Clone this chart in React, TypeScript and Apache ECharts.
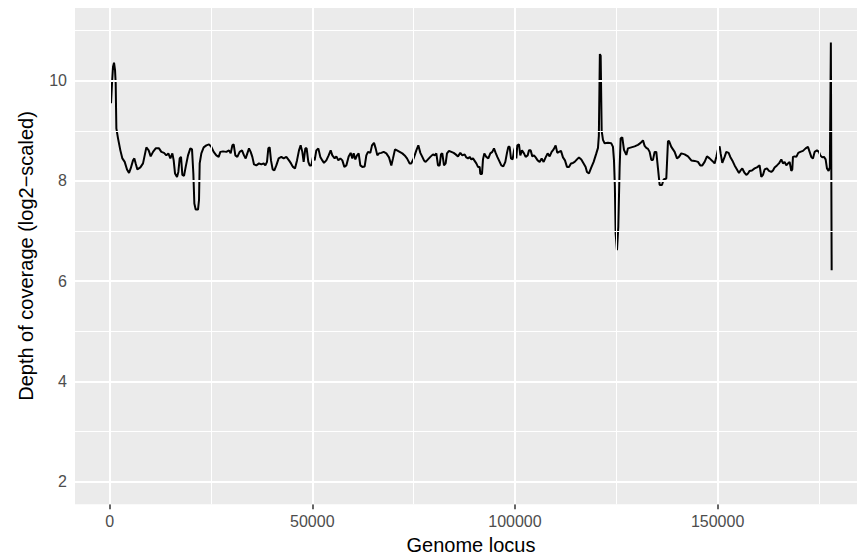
import React, { useEffect, useRef } from "react";
import * as echarts from "echarts";

// Genome locus (bp) and log2-scaled depth of coverage
const genomeLocus = [
  330, 575, 822, 1069, 1316, 1480, 1562, 1645, 2056, 2632, 3125, 3700, 4276, 4770, 5181, 5757, 6086, 6415, 6826, 7566,
  8224, 8635, 9047, 9622, 10115, 10691, 11349, 12171, 12747, 13405, 13981, 14474, 14967, 15461, 15790, 16119, 16612, 16941, 17270, 17599,
  17929, 18340, 18751, 19326, 19902, 20313, 20642, 20889, 21218, 21793, 22040, 22205, 22616, 23192, 23850, 24508, 25083, 25659, 26317, 26892,
  27303, 27961, 28783, 29441, 29852, 30264, 30593, 31004, 31497, 32073, 32648, 33142, 33553, 33964, 34375, 34786, 35197, 35609, 36184, 36842,
  37418, 37993, 38405, 38816, 39145, 39474, 39803, 40214, 40625, 41118, 41694, 42352, 42927, 43585, 44243, 44736, 45229, 45722, 46216, 46709,
  47120, 47531, 47860, 48271, 48600, 49011, 49340, 49751, 50162, 50574, 50985, 51478, 51971, 52465, 52876, 53456, 54031, 54525, 54936, 55511,
  55922, 56416, 56909, 57406, 57900, 58393, 58969, 59462, 59873, 60202, 60613, 61025, 61436, 61847, 62340, 62916, 63327, 63739, 64314, 64725,
  65219, 65630, 66041, 66452, 67028, 67604, 68261, 68919, 69496, 69907, 70400, 70893, 71551, 72209, 72785, 73361, 74019, 74430, 75006, 75663,
  76157, 76650, 77143, 77554, 77966, 78541, 79117, 79775, 80186, 80597, 81009, 81420, 81749, 82078, 82489, 82900, 83229, 83722, 84298, 84874,
  85367, 85943, 86519, 87012, 87588, 87999, 88410, 88822, 89233, 89644, 90055, 90467, 90878, 91289, 91454, 91865, 92112, 92441, 92934, 93427,
  93921, 94414, 94825, 95236, 95647, 96059, 96634, 97127, 97621, 98032, 98361, 98690, 99019, 99430, 99759, 100006, 100335, 100582, 100993, 101322,
  101734, 102227, 102638, 103132, 103461, 103872, 104283, 104694, 105106, 105599, 106092, 106586, 107079, 107572, 108066, 108559, 109052, 109546, 110039, 110451,
  110862, 111355, 111849, 112342, 112835, 113329, 113822, 114316, 114727, 115302, 115796, 116371, 116947, 117440, 117769, 118262, 118841, 119417, 120075, 120486,
  120700, 120950, 121150, 121400, 121720, 122131, 122953, 123775, 124187, 124434, 124650, 124846, 125175, 125504, 125833, 126080, 126491, 126902, 127477, 127888,
  128710, 129533, 130355, 131013, 131589, 132000, 132411, 132823, 133234, 133645, 134057, 134468, 134879, 135290, 135702, 136277, 136688, 137346, 137757, 138004,
  138580, 139402, 139977, 140471, 141047, 141869, 142691, 143514, 144336, 145158, 145734, 146227, 146803, 147379, 148036, 148694, 149270, 149681, 150093, 150504,
  150750, 151162, 151737, 152149, 152724, 153136, 153629, 154205, 154780, 155274, 155685, 156096, 156671, 157083, 157494, 157905, 158481, 159139, 159715, 160373,
  160784, 161195, 161607, 162182, 162676, 163252, 163663, 164074, 164650, 165143, 165719, 166130, 166541, 166953, 167364, 167775, 168186, 168433, 168600, 169011,
  169422, 169916, 170409, 171067, 171725, 172300, 172711, 173123, 173534, 173945, 174521, 175014, 175343, 175837, 176248, 176659, 176988, 177400, 177700, 177950,
  178150,
];

const coverage = [
  9.55, 9.95, 10.28, 10.36, 10.21, 9.95, 9.48, 9.05, 8.85, 8.61, 8.45, 8.38, 8.23, 8.16, 8.25, 8.41, 8.45, 8.35, 8.23, 8.27,
  8.35, 8.51, 8.67, 8.61, 8.49, 8.58, 8.65, 8.65, 8.58, 8.56, 8.51, 8.55, 8.45, 8.55, 8.41, 8.15, 8.08, 8.18, 8.45, 8.48,
  8.12, 8.10, 8.28, 8.51, 8.65, 8.63, 8.15, 7.55, 7.43, 7.43, 7.62, 8.35, 8.55, 8.67, 8.71, 8.73, 8.68, 8.58, 8.51, 8.48,
  8.58, 8.59, 8.58, 8.61, 8.55, 8.71, 8.73, 8.51, 8.48, 8.58, 8.61, 8.51, 8.45, 8.55, 8.65, 8.58, 8.48, 8.33, 8.31, 8.35,
  8.33, 8.35, 8.31, 8.38, 8.65, 8.67, 8.41, 8.23, 8.21, 8.31, 8.45, 8.48, 8.45, 8.48, 8.41, 8.35, 8.28, 8.25, 8.41, 8.61,
  8.71, 8.58, 8.38, 8.65, 8.65, 8.38, 8.31, 8.31, 8.48, 8.41, 8.61, 8.65, 8.48, 8.41, 8.36, 8.41, 8.51, 8.61, 8.51, 8.45,
  8.49, 8.41, 8.45, 8.41, 8.28, 8.31, 8.49, 8.56, 8.45, 8.55, 8.43, 8.51, 8.55, 8.31, 8.28, 8.29, 8.51, 8.58, 8.56, 8.71,
  8.76, 8.65, 8.51, 8.55, 8.56, 8.58, 8.55, 8.47, 8.31, 8.45, 8.63, 8.61, 8.58, 8.55, 8.51, 8.45, 8.35, 8.35, 8.45, 8.61,
  8.71, 8.56, 8.48, 8.41, 8.38, 8.43, 8.48, 8.53, 8.51, 8.55, 8.31, 8.31, 8.53, 8.55, 8.31, 8.35, 8.55, 8.60, 8.58, 8.56,
  8.53, 8.49, 8.56, 8.51, 8.53, 8.47, 8.45, 8.48, 8.43, 8.45, 8.40, 8.35, 8.28, 8.28, 8.14, 8.14, 8.43, 8.55, 8.48, 8.45,
  8.55, 8.58, 8.65, 8.56, 8.48, 8.41, 8.31, 8.29, 8.38, 8.56, 8.68, 8.68, 8.45, 8.43, 8.60, 8.67, 8.45, 8.71, 8.73, 8.51,
  8.61, 8.55, 8.48, 8.51, 8.61, 8.61, 8.49, 8.51, 8.47, 8.41, 8.38, 8.45, 8.38, 8.47, 8.55, 8.49, 8.58, 8.63, 8.71, 8.56,
  8.58, 8.60, 8.47, 8.41, 8.28, 8.28, 8.35, 8.36, 8.38, 8.43, 8.47, 8.43, 8.35, 8.28, 8.18, 8.15, 8.27, 8.38, 8.55, 8.66,
  8.90, 10.53, 10.50, 9.00, 8.82, 8.75, 8.76, 8.75, 8.68, 8.41, 7.90, 6.95, 6.62, 7.09, 8.28, 8.85, 8.87, 8.62, 8.52, 8.65,
  8.67, 8.69, 8.72, 8.76, 8.81, 8.70, 8.66, 8.64, 8.58, 8.42, 8.42, 8.58, 8.58, 8.25, 7.92, 7.92, 8.03, 8.05, 8.79, 8.80,
  8.68, 8.58, 8.45, 8.48, 8.55, 8.53, 8.49, 8.41, 8.40, 8.38, 8.31, 8.31, 8.38, 8.49, 8.45, 8.40, 8.35, 8.48, 8.63, 8.69,
  8.55, 8.36, 8.48, 8.58, 8.56, 8.48, 8.41, 8.31, 8.23, 8.16, 8.21, 8.25, 8.16, 8.12, 8.15, 8.20, 8.21, 8.25, 8.27, 8.31,
  8.08, 8.12, 8.23, 8.25, 8.20, 8.18, 8.21, 8.27, 8.31, 8.35, 8.43, 8.35, 8.38, 8.31, 8.35, 8.38, 8.20, 8.23, 8.48, 8.49,
  8.48, 8.56, 8.58, 8.60, 8.65, 8.68, 8.58, 8.48, 8.45, 8.58, 8.61, 8.58, 8.51, 8.47, 8.48, 8.43, 8.25, 8.20, 8.27, 10.76,
  6.22,
];

const xTickValues = [0, 50000, 100000, 150000];
const xMinorValues = [25000, 75000, 125000, 175000];
const yTickValues = [2, 4, 6, 8, 10];
const yMinorValues = [3, 5, 7, 9, 11];
const yLimits = [2, 11];

const xTitle = "Genome locus";
const yTitle = "Depth of coverage (log2\u2212scaled)";

export default function App() {
  const ref = useRef<HTMLDivElement>(null);

  useEffect(() => {
    if (!ref.current) return;
    const chart = echarts.init(ref.current, undefined, { renderer: "svg" });
    const font = "'Liberation Sans', Arial, Helvetica, sans-serif";

    const xLo = genomeLocus[0];
    const xHi = genomeLocus[genomeLocus.length - 1];
    const xMin = xLo - 0.05 * (xHi - xLo);
    const xMax = xHi + 0.05 * (xHi - xLo);
    const yMin = yLimits[0] - 0.05 * (yLimits[1] - yLimits[0]);
    const yMax = yLimits[1] + 0.05 * (yLimits[1] - yLimits[0]);

    const gridLines = [
      ...xMinorValues.map((v) => ({ xAxis: v, lineStyle: { width: 1 } })),
      ...yMinorValues.map((v) => ({ yAxis: v, lineStyle: { width: 1 } })),
      ...xTickValues.map((v) => ({ xAxis: v, lineStyle: { width: 2 } })),
      ...yTickValues.map((v) => ({ yAxis: v, lineStyle: { width: 2 } })),
    ];

    chart.setOption({
      animation: false,
      backgroundColor: "#FFFFFF",
      grid: {
        left: 75,
        top: 8,
        width: 792.7,
        height: 496.3,
        show: true,
        backgroundColor: "#EBEBEB",
        borderWidth: 0,
        containLabel: false,
      },
      xAxis: {
        type: "value",
        min: xMin,
        max: xMax,
        axisLine: { show: false },
        splitLine: { show: false },
        axisTick: {
          show: true,
          length: 5,
          customValues: xTickValues,
          lineStyle: { color: "#333333", width: 1.5 },
        },
        axisLabel: {
          customValues: xTickValues,
          color: "#4D4D4D",
          fontFamily: font,
          fontSize: 16,
          margin: 9,
          formatter: (v: number) => String(v),
        },
      },
      yAxis: {
        type: "value",
        min: yMin,
        max: yMax,
        axisLine: { show: false },
        splitLine: { show: false },
        axisTick: {
          show: true,
          length: 5,
          customValues: yTickValues,
          lineStyle: { color: "#333333", width: 1.5 },
        },
        axisLabel: {
          customValues: yTickValues,
          color: "#4D4D4D",
          fontFamily: font,
          fontSize: 16,
          margin: 8,
          formatter: (v: number) => String(v),
        },
      },
      graphic: [
        {
          type: "text",
          x: 471,
          y: 545,
          style: {
            text: xTitle,
            fill: "#000000",
            font: `20px ${font}`,
            textAlign: "center",
            textVerticalAlign: "middle",
          },
        },
        {
          type: "text",
          x: 26,
          y: 256,
          rotation: Math.PI / 2,
          style: {
            text: yTitle,
            fill: "#000000",
            font: `20px ${font}`,
            textAlign: "center",
            textVerticalAlign: "middle",
          },
        },
      ],
      series: [
        {
          type: "line",
          data: [],
          z: 1,
          silent: true,
          markLine: {
            silent: true,
            symbol: ["none", "none"],
            label: { show: false },
            lineStyle: { color: "#FFFFFF", type: "solid" },
            emphasis: { disabled: true },
            data: gridLines,
          },
        },
        {
          type: "line",
          z: 3,
          data: genomeLocus.map((x, i) => [x, coverage[i]]),
          showSymbol: false,
          symbol: "none",
          lineStyle: { color: "#000000", width: 2 },
          silent: true,
        },
      ],
    });

    return () => chart.dispose();
  }, []);

  return (
    <div style={{ position: "absolute", left: 0, top: 0, width: 857, height: 558, overflow: "hidden", background: "#FFFFFF" }}>
      <div ref={ref} style={{ width: 900, height: 558 }} />
    </div>
  );
}
